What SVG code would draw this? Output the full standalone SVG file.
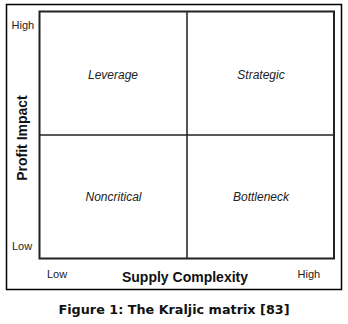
<svg xmlns="http://www.w3.org/2000/svg" width="348" height="324" viewBox="0 0 348 324">
<style>
.ax{font-family:"Liberation Sans",Arial,sans-serif;font-size:11px;fill:#222}
.q{font-family:"Liberation Sans",Arial,sans-serif;font-size:12px;font-style:italic;fill:#222;text-anchor:middle}
.t{font-family:"Liberation Sans",Arial,sans-serif;font-size:14px;font-weight:bold;fill:#111;text-anchor:middle}
.cap{font-family:"DejaVu Sans",Verdana,sans-serif;font-size:13px;font-weight:bold;fill:#111;text-anchor:middle}
</style>
<rect width="348" height="324" fill="#fff"/>
<rect id="frame" x="6.5" y="4.5" width="335" height="285" fill="none" stroke="#000" stroke-width="1.5"/>
<g id="connectors">
<line x1="187" y1="12" x2="187" y2="258" stroke="#555" stroke-width="2"/>
<line x1="40" y1="135" x2="334" y2="135" stroke="#222" stroke-width="1.5"/>
</g>
<rect id="matrix" x="39.5" y="11.5" width="294.5" height="247" fill="none" stroke="#222" stroke-width="2"/>
<g id="leverage"><text class="q" x="113" y="79">Leverage</text></g>
<g id="strategic"><text class="q" x="261" y="79">Strategic</text></g>
<g id="noncritical"><text class="q" x="113.5" y="201">Noncritical</text></g>
<g id="bottleneck"><text class="q" x="261" y="201">Bottleneck</text></g>
<g id="y-axis">
<text class="ax" x="11.5" y="29">High</text>
<text class="ax" x="12" y="250">Low</text>
<text class="t" transform="translate(27,138) rotate(-90)">Profit Impact</text>
</g>
<g id="x-axis">
<text class="ax" x="47" y="278">Low</text>
<text class="ax" x="297.5" y="278">High</text>
<text class="t" x="185" y="282">Supply Complexity</text>
</g>
<text class="cap" x="174" y="314" textLength="231" lengthAdjust="spacingAndGlyphs">Figure 1: The Kraljic matrix [83]</text>
</svg>
